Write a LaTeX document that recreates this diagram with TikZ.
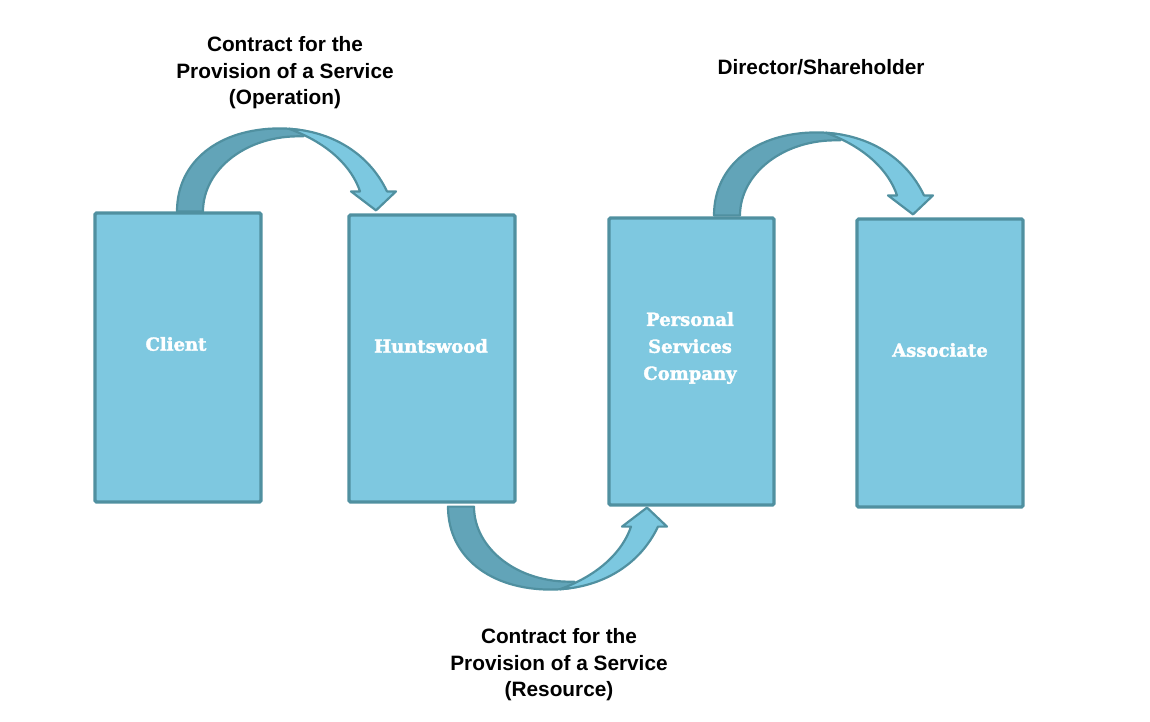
\documentclass[tikz,border=0pt]{standalone}
\usepackage{fontspec}
\setmainfont{Liberation Sans}
\newfontfamily\boxfont{DejaVu Serif}[BoldFont={DejaVu Serif Bold}, BoldFeatures={FakeBold=2}]
\usetikzlibrary{calc}
\definecolor{boxfill}{RGB}{126,200,224}
\definecolor{boxline}{RGB}{80,144,160}
\definecolor{arrdark}{RGB}{98,164,184}
\definecolor{arrlight}{RGB}{124,200,224}
\tikzset{
  box/.style={draw=boxline, fill=boxfill, line width=3.2pt, rounded corners=1.5pt, inner sep=0pt},
  boxtext/.style={text=white, font=\boxfont\bfseries\fontsize{18}{27}\selectfont, align=center, inner sep=0pt},
  lbl/.style={font=\bfseries\fontsize{20.8}{26.5}\selectfont, align=center, inner sep=0pt},
  curvarrow/.pic={
    \path[fill=arrdark, draw=boxline, line width=2.2pt, line join=round]
      (0,0) .. controls (0,-50) and (42,-83) .. (103,-83)
      .. controls (112,-83) and (120,-82) .. (130,-80) -- (126,-75)
      .. controls (70,-77) and (26,-42) .. (26,0) -- cycle;
    \path[fill=arrlight, draw=boxline, line width=2.2pt, line join=round]
      (112,-82.6) .. controls (155,-80) and (192,-58) .. (210,-20) -- (219,-20)
      -- (199,-1) -- (174,-20) -- (183,-20)
      .. controls (175,-44) and (152,-68) .. (112,-82.6) -- cycle;
  }
}
\begin{document}
\begin{tikzpicture}[x=1pt,y=-1pt]
\useasboundingbox (0,0) rectangle (1150,722);
% boxes
\node[box, minimum width=166pt, minimum height=289pt] (client) at (178,357.5) {};
\node[box, minimum width=166pt, minimum height=287pt] (hunts) at (432,358.5) {};
\node[box, minimum width=165pt, minimum height=287pt] (psc) at (691.5,361.5) {};
\node[box, minimum width=166pt, minimum height=288pt] (assoc) at (940,363) {};
% box texts
\node[boxtext] (clientT) at (176,344) {Client};
\node[boxtext] (huntsT) at (431,346) {Huntswood};
\node[boxtext] (pscT) at (690,348) {Personal\\Services\\Company};
\node[boxtext] (assocT) at (940,350) {Associate};
% curved arrows
\pic at ($(client.north)+(-1,0)$) {curvarrow};
\pic at ($(psc.north)+(22.5,-1)$) {curvarrow};
\pic[yscale=-1] at ($(hunts.south)+(16,3)$) {curvarrow};
% labels
\node[lbl] (l1) at (285,73) {Contract for the\\Provision of a Service\\(Operation)};
\node[lbl] (l2) at (821,67) {Director/Shareholder};
\node[lbl] (l3) at (559,665) {Contract for the\\Provision of a Service\\(Resource)};
\end{tikzpicture}
\end{document}
